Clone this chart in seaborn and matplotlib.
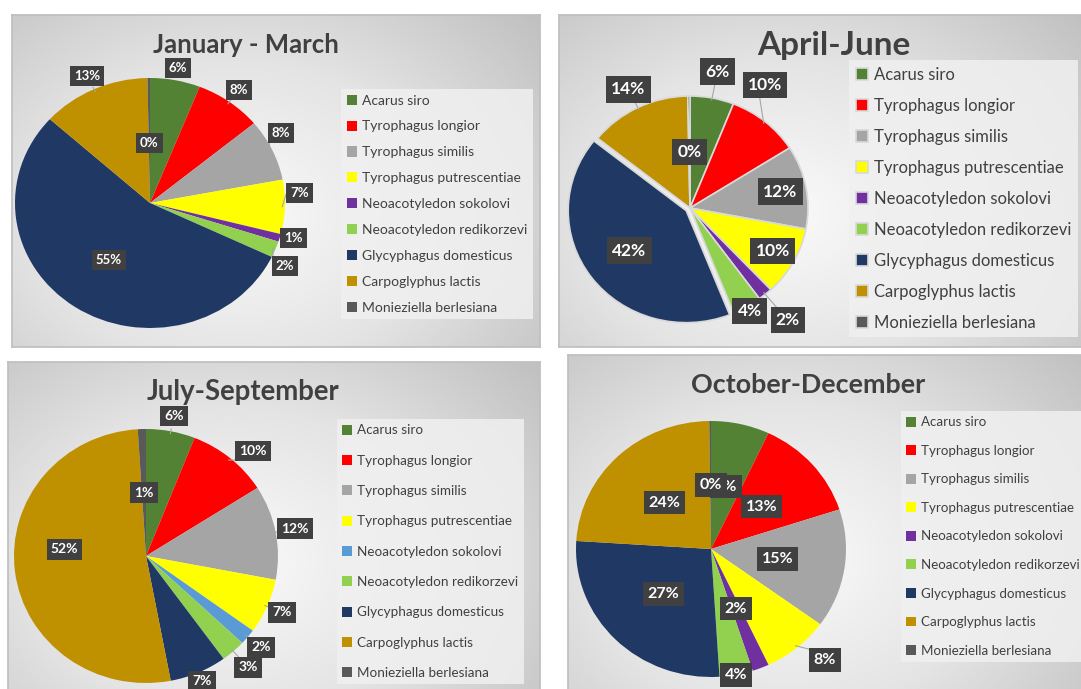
import numpy as np
import seaborn as sns
from matplotlib import pyplot as plt
from matplotlib.colors import LinearSegmentedColormap

species = ["Acarus siro", "Tyrophagus longior", "Tyrophagus similis",
           "Tyrophagus putrescentiae", "Neoacotyledon sokolovi",
           "Neoacotyledon redikorzevi", "Glycyphagus domesticus",
           "Carpoglyphus lactis", "Monieziella berlesiana"]

# share of each species (%) per quarter
jan_mar = [6, 8, 8, 7, 1, 2.1, 54.6, 13, 0.3]
apr_jun = [6, 10, 12, 10, 2, 4, 41.7, 14, 0.3]
jul_sep = [6, 10, 12, 7, 2, 3, 7, 52, 1]
oct_dec = [7, 13, 15, 8, 2, 4, 27, 23.8, 0.2]

colors = ["#548235", "#FF0000", "#A5A5A5", "#FFFF00", "#7030A0",
          "#92D050", "#203864", "#BF9000", "#595959"]
colors_jul = colors[:4] + ["#5B9BD5"] + colors[5:]

W, H = 1081, 689

sns.set_theme(style="white")
plt.rcParams['font.family'] = ['Lato', 'DejaVu Sans']

fig = plt.figure(figsize=(W / 100, H / 100), dpi=100)
fig.patch.set_facecolor("white")

bg_cmap = LinearSegmentedColormap.from_list("bg", ["#fafafa", "#e4e4e4", "#c0c0c0"])


def fig_rect(x0, y0, x1, y1):
    return [x0 / W, 1 - y1 / H, (x1 - x0) / W, (y1 - y0) / H]


# label placement: distance from centre (in radii) and a clockwise shift in degrees
panels = [
    dict(title="January - March", values=jan_mar, colors=colors,
         box=(12, 15, 540, 347), pie=(150, 203, 135, 125), tpos=(246, 45, 18.5),
         leg=(341, 89, 10, 1.0), lab_fs=9.5, edge="none", explode=None,
         lab_r=[1.1, 1.12, 1.12, 1.11, 1.1, 1.12, 0.55, 1.12, 0.48],
         lab_da=[0, 0, -4.8, -5.8, -1.4, 5, 0, 0, 0]),
    dict(title="April-June", values=apr_jun, colors=colors,
         box=(559, 15, 1090, 347), pie=(690, 208, 118, 112), tpos=(834, 45, 24),
         leg=(849, 60, 12, 0.9), lab_fs=12.5, edge="#d9d9d9",
         explode=[0, 0, 0, 0, 0, 0, 0.04, 0, 0],
         lab_r=[1.24, 1.27, 0.78, 0.8, 1.3, 1.05, 0.6, 1.18, 0.5],
         lab_da=[0, -9.5, 0, 0, 0, 0, 0, 0, 0]),
    dict(title="July-September", values=jul_sep, colors=colors_jul,
         box=(8, 362, 540, 695), pie=(146, 556, 132, 127), tpos=(243, 392, 19.8),
         leg=(337, 419, 9.7, 1.36), lab_fs=10, edge="none", explode=None,
         lab_r=[1.12, 1.16, 1.15, 1.12, 1.13, 1.17, 1.07, 0.62, 0.5],
         lab_da=[0, 4.8, 0, 0, 0, 0, 0, 12, 0]),
    dict(title="October-December", values=oct_dec, colors=colors,
         box=(568, 355, 1090, 695), pie=(711, 549, 135, 128), tpos=(808, 385, 19.4),
         leg=(901, 411, 9.6, 1.24), lab_fs=11.5, edge="none", explode=None,
         lab_r=[0.5, 0.5, 0.5, 1.21, 0.5, 1.0, 0.5, 0.5, 0.5],
         lab_da=[0, 0, 0, -4.6, 0, 0, 0, 0, 0]),
]


def draw_panel(p):
    bg = fig.add_axes(fig_rect(*p['box']), zorder=0)
    yy, xx = np.mgrid[0:1:200j, 0:1:300j]
    shade = np.hypot((xx - 0.42) * 1.2, yy - 0.6)
    bg.imshow(shade, cmap=bg_cmap, aspect='auto', extent=(0, 1, 0, 1))
    bg.set_xticks([])
    bg.set_yticks([])
    for s in bg.spines.values():
        s.set_color("#bfbfbf")

    cx, cy, rx, ry = p['pie']
    ax = fig.add_axes(fig_rect(cx - rx, cy - ry, cx + rx, cy + ry), zorder=2)
    wedges, _ = ax.pie(p['values'], colors=p['colors'], startangle=90,
                       counterclock=False, explode=p['explode'],
                       wedgeprops=dict(edgecolor=p['edge'], linewidth=1.2, clip_on=False))
    ax.set_aspect('auto')
    ax.set_xlim(-1, 1)
    ax.set_ylim(-1, 1)
    ax.axis('off')

    for w, v, r, da in zip(wedges, p['values'], p['lab_r'], p['lab_da']):
        mid = np.deg2rad((w.theta1 + w.theta2) / 2)
        ang = mid - np.deg2rad(da)
        ox, oy = w.center
        c, s = np.cos(ang), np.sin(ang)
        if r > 1.1:
            ax.plot([ox + 0.98 * np.cos(mid), ox + (r - 0.1) * c],
                    [oy + 0.98 * np.sin(mid), oy + (r - 0.1) * s],
                    color="#a6a6a6", lw=0.8, clip_on=False, zorder=4)
        ax.text(ox + r * c, oy + r * s, f"{round(v)}%", ha='center', va='center',
                color='white', fontweight='bold', fontsize=p['lab_fs'], zorder=5,
                bbox=dict(boxstyle='square,pad=0.3', fc='#404040', ec='none'))

    lx, ly, lfs, lsp = p['leg']
    leg = ax.legend(wedges, species, loc='upper left', bbox_to_anchor=(lx / W, 1 - ly / H),
                    bbox_transform=fig.transFigure, fontsize=lfs, labelspacing=lsp,
                    handlelength=0.75, handleheight=0.75, handletextpad=0.35,
                    borderpad=0.4, borderaxespad=0, frameon=True, facecolor="#f0f0f0",
                    edgecolor="none", fancybox=False, framealpha=0.85)
    for t in leg.get_texts():
        t.set_color("#404040")

    tx, ty, tfs = p['tpos']
    fig.text(tx / W, 1 - ty / H, p['title'], ha='center', va='center',
             fontsize=tfs, fontweight='bold', color="#404040")


for p in panels:
    draw_panel(p)

fig.savefig("out.png", dpi=100)
